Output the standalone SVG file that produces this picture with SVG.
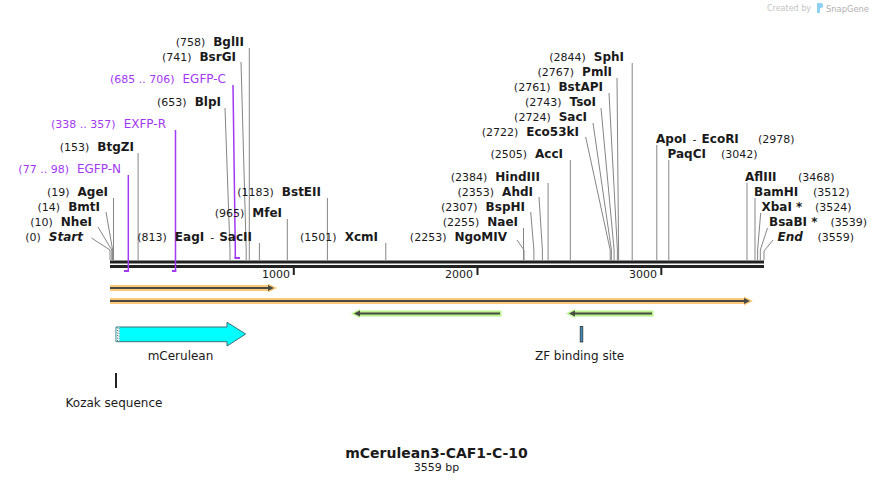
<svg xmlns="http://www.w3.org/2000/svg" width="874" height="484" viewBox="0 0 874 484">
<style>
text{font-family:"DejaVu Sans","Verdana",sans-serif;fill:#1a1a1a}
.n{font-size:11px;font-weight:normal}
.b{font-size:12px;font-weight:bold}
.bi{font-size:12px;font-weight:bold;font-style:italic}
.pn{font-size:11px;fill:#a238f2}
.pl{font-size:12px;fill:#a238f2}
.f{font-size:12px}
.site{stroke:#858585;stroke-width:1;fill:none}
.prim{stroke:#a238f2;stroke-width:1.5;fill:none}
.brk{stroke:#a238f2;stroke-width:2;fill:none}
.tick{font-size:11px}
.hlO{stroke:#fbc97a;stroke-width:6;fill:none}
.hlG{stroke:#b9f38c;stroke-width:6;fill:none}
.ln{stroke:#4a4a44;stroke-width:2.2;fill:none}
</style>
<rect width="874" height="484" fill="#ffffff"/>

<!-- watermark -->
<g id="watermark">
<text x="811" y="11" text-anchor="end" style="font-size:8px;fill:#c4c4c4">Created by</text>
<path d="M817,3 h4 a2,2 0 0 1 2,2 v1 a2,2 0 0 1 -2,2 h-1 v5 h-3 z" fill="#8fd0f5"/>
<text x="826" y="12" textLength="43" lengthAdjust="spacingAndGlyphs" style="font-size:9.5px;fill:#b0b0b0">SnapGene</text>
</g>

<!-- backbone -->
<g id="backbone">
<rect x="110" y="260.5" width="654" height="3" fill="#222"/>
<rect x="110" y="265" width="654" height="3" fill="#222"/>
<rect x="292.8" y="267" width="2" height="8" fill="#222"/>
<rect x="476.5" y="267" width="2" height="8" fill="#222"/>
<rect x="660.3" y="267" width="2" height="8" fill="#222"/>
<text class="tick" x="290" y="278" text-anchor="end">1000</text>
<text class="tick" x="473" y="278" text-anchor="end">2000</text>
<text class="tick" x="657" y="278" text-anchor="end">3000</text>
</g>

<!-- connectors -->
<g id="connectors">
<polyline class="site" points="91.5,238 110,250 110,260"/>
<polyline class="site" points="98,227 111.8,250 111.8,260"/>
<polyline class="site" points="106,212 112.6,250 112.6,260"/>
<polyline class="site" points="113.5,198 113.5,260"/>
<polyline class="site" points="138.1,153 138.1,260"/>
<polyline class="site" points="225,108 230,250 230,260"/>
<polyline class="site" points="241,62 246.2,250 246.2,260"/>
<polyline class="site" points="249.3,48 249.3,260"/>
<polyline class="site" points="259.4,243 259.4,260"/>
<polyline class="site" points="287.3,219 287.3,260"/>
<polyline class="site" points="327.4,198 327.4,260"/>
<polyline class="site" points="385.8,243 385.8,260"/>
<polyline class="site" points="517,240 524,250 524,260"/>
<polyline class="site" points="523.5,228 523.5,260"/>
<polyline class="site" points="530.7,212 533.9,250 533.9,260"/>
<polyline class="site" points="539,197 542.4,250 542.4,260"/>
<polyline class="site" points="548.1,183 548.1,260"/>
<polyline class="site" points="570.3,160 570.3,260"/>
<polyline class="site" points="585.7,137 610.2,250 610.2,260"/>
<polyline class="site" points="593,123 611.4,250 611.4,260"/>
<polyline class="site" points="601,108 614.1,250 614.1,260"/>
<polyline class="site" points="609,93 617.4,250 617.4,260"/>
<polyline class="site" points="617,78 618.6,250 618.6,260"/>
<polyline class="site" points="632.2,63 632.2,260"/>
<polyline class="site" points="656.8,145 656.8,260"/>
<polyline class="site" points="668.8,160 668.8,260"/>
<polyline class="site" points="747,183 747,260"/>
<polyline class="site" points="755,198 755,260"/>
<polyline class="site" points="760.7,213 757.6,250 757.6,260"/>
<polyline class="site" points="767.5,228 760.3,250 760.3,260"/>
<polyline class="site" points="773,240 764,251 764,260"/>
<!-- primers -->
<polyline class="prim" points="128.3,175 128.3,272"/>
<line class="brk" x1="124" y1="271" x2="129" y2="271"/>
<polyline class="prim" points="175.5,130 175.5,272"/>
<line class="brk" x1="172" y1="271" x2="176.2" y2="271"/>
<polyline class="prim" points="233,85 235.3,250 235.3,258.5"/>
<line class="brk" x1="234.6" y1="258" x2="240" y2="258"/>
</g>

<!-- left side labels -->
<g id="site-Start"><text x="83" y="241" text-anchor="end"><tspan class="n">(0)</tspan><tspan class="bi" dx="8">Start</tspan></text></g>
<g id="site-NheI"><text x="92" y="226" text-anchor="end"><tspan class="n">(10)</tspan><tspan class="b" dx="8">NheI</tspan></text></g>
<g id="site-BmtI"><text x="100" y="211" text-anchor="end"><tspan class="n">(14)</tspan><tspan class="b" dx="8">BmtI</tspan></text></g>
<g id="site-AgeI"><text x="108" y="196" text-anchor="end"><tspan class="n">(19)</tspan><tspan class="b" dx="8">AgeI</tspan></text></g>
<g id="primer-EGFP-N"><text x="121" y="173" text-anchor="end"><tspan class="pn">(77 .. 98)</tspan><tspan class="pl" dx="8">EGFP-N</tspan></text></g>
<g id="site-BtgZI"><text x="134" y="151" text-anchor="end"><tspan class="n">(153)</tspan><tspan class="b" dx="8">BtgZI</tspan></text></g>
<g id="primer-EXFP-R"><text x="166" y="128" text-anchor="end"><tspan class="pn">(338 .. 357)</tspan><tspan class="pl" dx="8">EXFP-R</tspan></text></g>
<g id="site-BlpI"><text x="221" y="106" text-anchor="end"><tspan class="n">(653)</tspan><tspan class="b" dx="8">BlpI</tspan></text></g>
<g id="primer-EGFP-C"><text x="226" y="83" text-anchor="end"><tspan class="pn">(685 .. 706)</tspan><tspan class="pl" dx="8">EGFP-C</tspan></text></g>
<g id="site-BsrGI"><text x="236" y="61" text-anchor="end"><tspan class="n">(741)</tspan><tspan class="b" dx="8">BsrGI</tspan></text></g>
<g id="site-BglII"><text x="244" y="46" text-anchor="end"><tspan class="n">(758)</tspan><tspan class="b" dx="8">BglII</tspan></text></g>
<g id="site-EagI-SacII"><text x="252" y="241" text-anchor="end"><tspan class="n">(813)</tspan><tspan class="b" dx="8">EagI</tspan><tspan class="n" dx="6">-</tspan><tspan class="b" dx="5">SacII</tspan></text></g>
<g id="site-MfeI"><text x="282" y="217" text-anchor="end"><tspan class="n">(965)</tspan><tspan class="b" dx="8">MfeI</tspan></text></g>
<g id="site-BstEII"><text x="321" y="196" text-anchor="end"><tspan class="n">(1183)</tspan><tspan class="b" dx="8">BstEII</tspan></text></g>
<g id="site-XcmI"><text x="378" y="241" text-anchor="end"><tspan class="n">(1501)</tspan><tspan class="b" dx="8">XcmI</tspan></text></g>
<g id="site-NgoMIV"><text x="507" y="241" text-anchor="end"><tspan class="n">(2253)</tspan><tspan class="b" dx="8">NgoMIV</tspan></text></g>
<g id="site-NaeI"><text x="518" y="226" text-anchor="end"><tspan class="n">(2255)</tspan><tspan class="b" dx="8">NaeI</tspan></text></g>
<g id="site-BspHI"><text x="525" y="211" text-anchor="end"><tspan class="n">(2307)</tspan><tspan class="b" dx="8">BspHI</tspan></text></g>
<g id="site-AhdI"><text x="533" y="196" text-anchor="end"><tspan class="n">(2353)</tspan><tspan class="b" dx="8">AhdI</tspan></text></g>
<g id="site-HindIII"><text x="540" y="181" text-anchor="end"><tspan class="n">(2384)</tspan><tspan class="b" dx="8">HindIII</tspan></text></g>
<g id="site-AccI"><text x="563" y="158" text-anchor="end"><tspan class="n">(2505)</tspan><tspan class="b" dx="8">AccI</tspan></text></g>
<g id="site-Eco53kI"><text x="579" y="136" text-anchor="end"><tspan class="n">(2722)</tspan><tspan class="b" dx="8">Eco53kI</tspan></text></g>
<g id="site-SacI"><text x="587" y="121" text-anchor="end"><tspan class="n">(2724)</tspan><tspan class="b" dx="8">SacI</tspan></text></g>
<g id="site-TsoI"><text x="596" y="106" text-anchor="end"><tspan class="n">(2743)</tspan><tspan class="b" dx="8">TsoI</tspan></text></g>
<g id="site-BstAPI"><text x="603" y="91" text-anchor="end"><tspan class="n">(2761)</tspan><tspan class="b" dx="8">BstAPI</tspan></text></g>
<g id="site-PmlI"><text x="612" y="76" text-anchor="end"><tspan class="n">(2767)</tspan><tspan class="b" dx="8">PmlI</tspan></text></g>
<g id="site-SphI"><text x="624" y="61" text-anchor="end"><tspan class="n">(2844)</tspan><tspan class="b" dx="8">SphI</tspan></text></g>

<!-- right side labels -->
<g id="site-ApoI-EcoRI"><text x="656" y="143"><tspan class="b">ApoI</tspan><tspan class="n" dx="6">-</tspan><tspan class="b" dx="5">EcoRI</tspan></text><text class="n" x="758" y="143">(2978)</text></g>
<g id="site-PaqCI"><text class="b" x="667.5" y="158">PaqCI</text><text class="n" x="721" y="158">(3042)</text></g>
<g id="site-AflIII"><text class="b" x="745" y="181">AflIII</text><text class="n" x="798" y="181">(3468)</text></g>
<g id="site-BamHI"><text class="b" x="754" y="196">BamHI</text><text class="n" x="813" y="196">(3512)</text></g>
<g id="site-XbaI"><text class="b" x="761.5" y="211">XbaI *</text><text class="n" x="815" y="211">(3524)</text></g>
<g id="site-BsaBI"><text class="b" x="769" y="226">BsaBI *</text><text class="n" x="830.5" y="226">(3539)</text></g>
<g id="site-End"><text class="bi" x="777.5" y="241">End</text><text class="n" x="817.5" y="241">(3559)</text></g>

<!-- features -->
<g id="feature-orange-1">
<polyline class="hlO" points="110,288 270,288"/>
<polygon points="268,283.5 277,288 268,292.5" fill="#fbc97a"/>
<line class="ln" x1="110" y1="288" x2="269" y2="288"/>
<polygon points="268,285 274,288 268,291" fill="#4a4a44"/>
</g>
<g id="feature-orange-2">
<polyline class="hlO" points="110,301 746,301"/>
<polygon points="744,296.5 753,301 744,305.5" fill="#fbc97a"/>
<line class="ln" x1="110" y1="301" x2="745" y2="301"/>
<polygon points="744,298 750,301 744,304" fill="#4a4a44"/>
</g>
<g id="feature-green-1">
<polyline class="hlG" points="358,313.5 501.5,313.5"/>
<polygon points="360,309 351,313.5 360,318" fill="#b9f38c"/>
<line class="ln" x1="359" y1="313.5" x2="500" y2="313.5"/>
<polygon points="360,310.5 354,313.5 360,316.5" fill="#4a4a44"/>
</g>
<g id="feature-green-2">
<polyline class="hlG" points="573,313.5 653.5,313.5"/>
<polygon points="575,309 566,313.5 575,318" fill="#b9f38c"/>
<line class="ln" x1="574" y1="313.5" x2="652" y2="313.5"/>
<polygon points="575,310.5 569,313.5 575,316.5" fill="#4a4a44"/>
</g>
<g id="feature-mCerulean">
<polygon points="116,327 227,327 227,322.3 245.7,334 227,346 227,341.7 116,341.7" fill="#00ffff" stroke="#3d6e74" stroke-width="1"/>
<rect x="116.5" y="327.5" width="3" height="13.7" fill="#ffffff"/>
<line x1="117.5" y1="327.5" x2="117.5" y2="341.5" stroke="#444" stroke-width="0.8" stroke-dasharray="1,1.5"/>
<line x1="119" y1="328.2" x2="119" y2="341.5" stroke="#444" stroke-width="0.8" stroke-dasharray="1,1.5"/>
<text class="f" x="180.5" y="360" text-anchor="middle">mCerulean</text>
</g>
<g id="feature-ZF">
<rect x="580.2" y="326.5" width="2.6" height="15.5" fill="#3a8fc0" stroke="#333" stroke-width="0.8"/>
<text class="f" x="579.5" y="360" text-anchor="middle">ZF binding site</text>
</g>
<g id="feature-Kozak">
<rect x="115" y="373" width="2" height="15" fill="#222"/>
<text class="f" x="114" y="407" text-anchor="middle">Kozak sequence</text>
</g>

<!-- title -->
<g id="title">
<text x="436.5" y="458" text-anchor="middle" style="font-size:14px;font-weight:bold">mCerulean3-CAF1-C-10</text>
<text x="436.5" y="471" text-anchor="middle" style="font-size:11px">3559 bp</text>
</g>
</svg>
